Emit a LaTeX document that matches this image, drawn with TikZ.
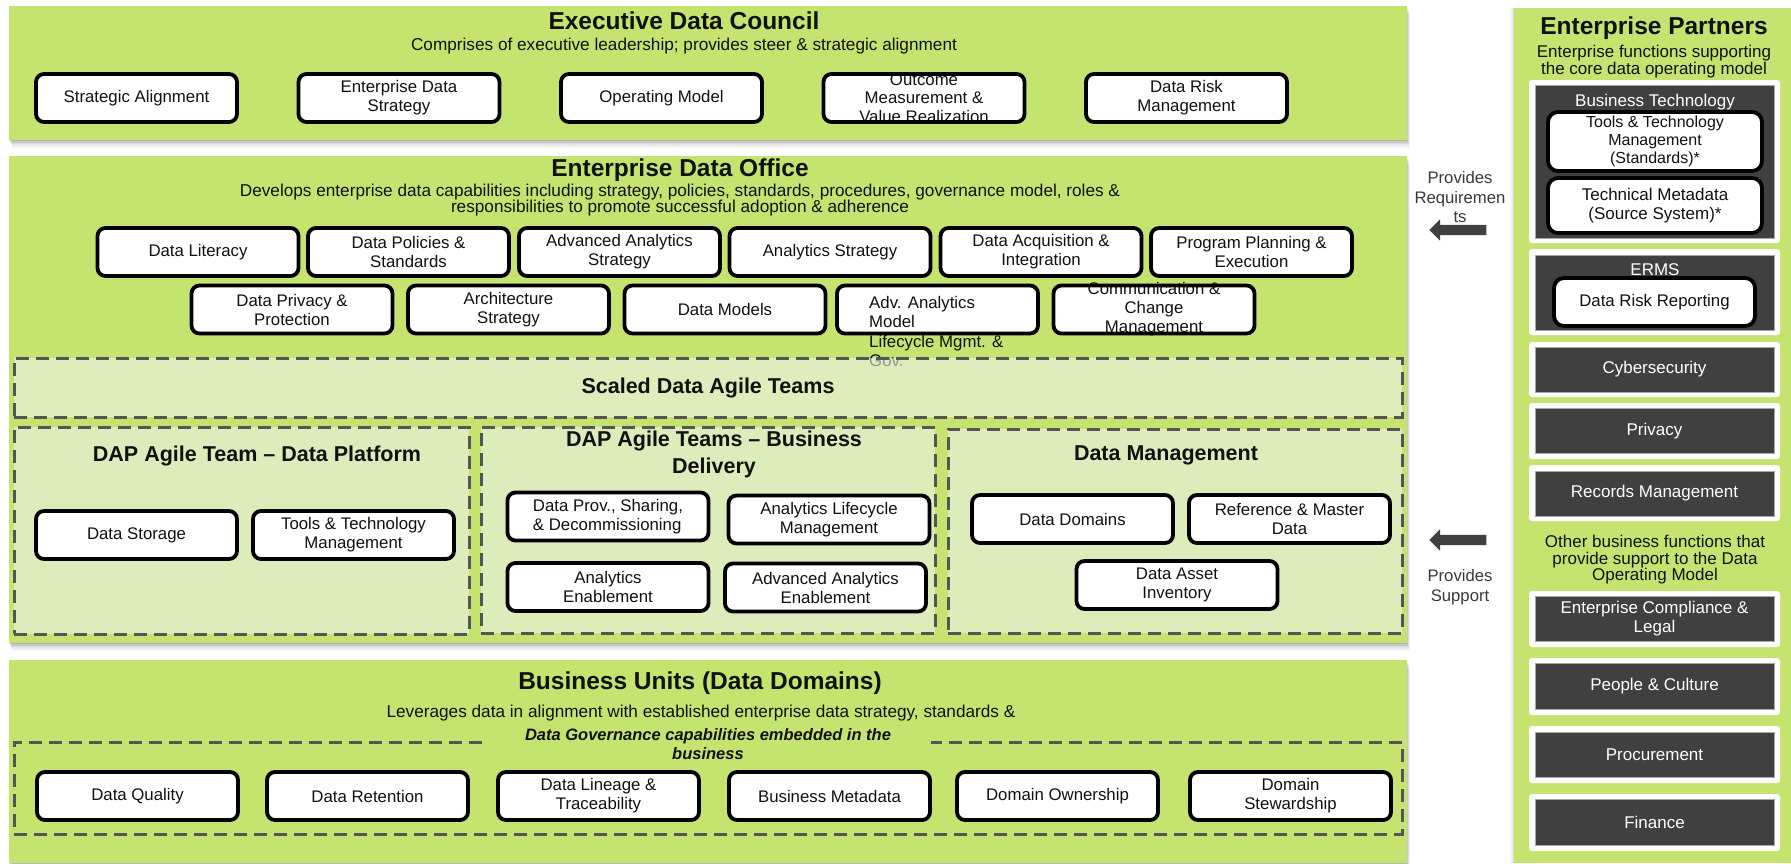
\documentclass[tikz,border=0pt]{standalone}
\usepackage{fontspec}
\setmainfont{Liberation Sans}
\usetikzlibrary{shapes.arrows,backgrounds}
\definecolor{pgreen}{HTML}{C5E46F}
\definecolor{teamfill}{HTML}{E4EFCF}
\definecolor{scalefill}{HTML}{EFF3EF}
\definecolor{dashc}{HTML}{555555}
\definecolor{dgray}{HTML}{404040}
\definecolor{ngray}{HTML}{3A3A3A}
\definecolor{txt}{HTML}{111111}
\newcommand\fsz[2]{\fontsize{#1}{#2}\selectfont}

\begin{document}
\begin{tikzpicture}[x=1pt,y=-1pt,
  panel/.style={fill=pgreen, inner sep=0pt, outer sep=0pt},
  capbg/.style={fill=white, rounded corners=8pt, minimum width=201pt, minimum height=48pt, inner sep=0pt},
  capframe/.style={capbg, fill=none, draw=black, line width=3.8pt},
  capbox/.style={capbg, draw=black, line width=3.8pt, align=center, text=txt, font={\fsz{16.8}{19}}},
  captext/.style={align=center, text=txt, inner sep=0pt},
  team/.style={draw=dashc, line width=3pt, dash pattern=on 13pt off 7pt, fill=teamfill, fill opacity=0.8, text opacity=1, inner sep=0pt},
  ttl/.style={text=txt, font={\bfseries\fsz{24.5}{28}}},
  sect/.style={text=txt, align=center, font={\bfseries\fsz{21.5}{27}}},
  subt/.style={text=txt, align=center, font={\fsz{17.2}{16.5}}},
  rsub/.style={text=txt, align=center, font={\fsz{17}{16.8}}},
  wbox/.style={fill=white, rounded corners=3pt, minimum width=251pt, inner sep=0pt},
  dbox/.style={fill=dgray, draw=gray!70, line width=0.8pt, minimum width=239pt, inner sep=0pt, text=white, align=center, font={\fsz{17}{19}}},
  ibox/.style={capbox, minimum width=214pt, rounded corners=10pt},
  flownote/.style={text=ngray, align=center, font={\fsz{16.7}{19.5}}},
  blk/.style={single arrow, fill=dgray, minimum height=57pt, minimum width=21pt, single arrow head extend=5.5pt, single arrow head indent=0pt, shape border rotate=180, inner xsep=0pt, inner ysep=0pt}
]
\useasboundingbox (0,0) rectangle (1791,863);

% ---------- panels ----------
\node[panel, minimum width=1398pt, minimum height=134pt] (exec) at (708,73) {};
\node[panel, minimum width=1398pt, minimum height=487pt] (edo) at (708,399.5) {};
\node[panel, minimum width=1398pt, minimum height=203pt] (bu) at (708,761.5) {};
\node[panel, minimum width=277pt, minimum height=855pt] (ep) at (1652.5,435.5) {};

\begin{pgfonlayer}{background}
  \fill[white] (0,0) rectangle (1791,863);
  \foreach \p in {exec,edo,bu}{
    \foreach \d/\o in {1/0.10,2.5/0.08,4/0.06,5.5/0.05,7.5/0.04}{
      \fill[black,opacity=\o] ([shift={(0.4*\d,\d)}]\p.south west) rectangle ([shift={(0.4*\d,\d)}]\p.north east);
    }
  }
  \foreach \d/\o in {1/0.06,2.5/0.05,4/0.04}{
    \fill[black,opacity=\o] ([shift={(-\d,0)}]ep.south west) rectangle ([shift={(-\d,0)}]ep.north east);
  }
\end{pgfonlayer}

% ---------- Executive Data Council ----------
\node[ttl] (exect) at (684,21) {Executive Data Council};
\node[subt] (execs) at (684,46) {Comprises of executive leadership; provides steer \& strategic alignment};
\node[capbox] (c1) at (136.5,98) {Strategic Alignment};
\node[capbox] (c2) at (399,98) {Enterprise Data\\Strategy};
\node[capbox] (c3) at (661.5,98) {Operating Model};
\node[capbg] (c4) at (924,98) {};
\node[captext, font={\fsz{16.8}{18.5}}] (c4t) at (924,98) {Outcome\\Measurement \&\\Value Realization};
\node[capframe] (c4f) at (924,98) {};
\node[capbox] (c5) at (1186.5,98) {Data Risk\\Management};

% ---------- Enterprise Data Office ----------
\node[ttl] (edot) at (680,170) {Enterprise Data Office};
\node[subt] (edos) at (680,200) {Develops enterprise data capabilities including strategy, policies, standards, procedures, governance model, roles \&\\responsibilities to promote successful adoption \& adherence};

\node[capbox] (e1) at (198,252) {Data Literacy};
\node[capbox] (e2) at (408.5,252) {Data Policies \&\\Standards};
\node[capbox] (e3) at (619.5,252) {Advanced Analytics\\Strategy};
\node[capbox] (e4) at (830,252) {Analytics Strategy};
\node[capbox] (e5) at (1041,252) {Data Acquisition \&\\Integration};
\node[capbox] (e6) at (1251.5,252) {Program Planning \&\\Execution};

\node[capbox] (f1) at (292,309.5) {Data Privacy \&\\Protection};
\node[capbox] (f2) at (508.5,309.5) {Architecture\\Strategy};
\node[capbox] (f3) at (725,309.5) {Data Models};
\node[capbg] (f4) at (937.5,309.5) {};
\node[captext, align=left, anchor=north west, font={\fsz{16.8}{19.5}}] (f4t) at (869,296) {Adv. Analytics\\Model\\Lifecycle Mgmt. \&\\Gov.};
\node[capframe] (f4f) at (937.5,309.5) {};
\node[capbg] (f5) at (1154,309.5) {};
\node[captext, font={\fsz{16.8}{19}}] (f5t) at (1154,309.5) {Communication \&\\Change\\Management};
\node[capframe] (f5f) at (1154,309.5) {};

% ---------- Scaled Data Agile Teams ----------
\node[team, fill=scalefill, fill opacity=0.6, minimum width=1388pt, minimum height=59pt] (sdat) at (708,387.5) {};
\node[sect] (sdatt) at (708,388) {Scaled Data Agile Teams};

\node[team, minimum width=455pt, minimum height=207pt] (tplat) at (241.5,530.5) {};
\node[team, minimum width=454pt, minimum height=206pt] (tbiz) at (708,530) {};
\node[team, minimum width=454pt, minimum height=204pt] (tdm) at (1175,531) {};

\node[sect] (tplatt) at (257,456) {DAP Agile Team – Data Platform};
\node[sect] (tbizt) at (714,454.5) {DAP Agile Teams – Business\\Delivery};
\node[sect] (tdmt) at (1166,455) {Data Management};

\node[capbox] (p1) at (136.5,535) {Data Storage};
\node[capbox] (p2) at (353.5,535) {Tools \& Technology\\Management};

\node[capbox, align=left] (g1) at (608,516.5) {Data Prov., Sharing,\\\& Decommissioning};
\node[capbox] (g2) at (829,519.5) {Analytics Lifecycle\\Management};
\node[capbox] (g3) at (608,587) {Analytics\\Enablement};
\node[capbox] (g4) at (825.5,587.5) {Advanced Analytics\\Enablement};

\node[capbox] (m1) at (1072.5,519) {Data Domains};
\node[capbox] (m2) at (1289.5,519) {Reference \& Master\\Data};
\node[capbox] (m3) at (1177,585) {Data Asset\\Inventory};

% ---------- Business Units ----------
\node[ttl] (bun) at (700,683) {Business Units (Data Domains)};
\node[subt] (bus) at (701,713) {Leverages data in alignment with established enterprise data strategy, standards \&};
\node[draw=dashc, line width=3pt, dash pattern=on 13pt off 7pt, minimum width=1388pt, minimum height=92pt, inner sep=0pt] (dgov) at (708,788) {};
\node[fill=pgreen, text=txt, align=center, minimum width=446pt, inner xsep=0pt, inner ysep=2pt, font={\bfseries\itshape\fsz{16.5}{19}}] (dgovl) at (708,744.5) {Data Governance capabilities embedded in the\\business};

\node[capbox] (h1) at (137.5,796) {Data Quality};
\node[capbox] (h2) at (367.5,796) {Data Retention};
\node[capbox] (h3) at (598.5,796) {Data Lineage \&\\Traceability};
\node[capbox] (h4) at (829.5,796) {Business Metadata};
\node[capbox] (h5) at (1057.5,796) {Domain Ownership};
\node[capbox] (h6) at (1290.5,796) {Domain\\Stewardship};

% ---------- Enterprise Partners ----------
\node[ttl] (ept) at (1654,28) {Enterprise Partners};
\node[rsub] (eps) at (1654,61.5) {Enterprise functions supporting\\the core data operating model};

\node[wbox, minimum height=163pt] (bt) at (1654.5,161.5) {};
\node[dbox, minimum height=153pt] (btd) at (1654.5,161.5) {};
\node[text=white, font={\fsz{17}{19}}] (btl) at (1655,102) {Business Technology};
\node[ibox, minimum height=59pt, font={\fsz{16}{18}}] (ttm) at (1655,141.5) {Tools \& Technology\\Management\\(Standards)*};
\node[ibox, minimum height=55pt, font={\fsz{17}{19}}] (tmd) at (1655,205.5) {Technical Metadata\\(Source System)*};

\node[wbox, minimum height=86pt] (erm) at (1654.5,292) {};
\node[dbox, minimum height=75pt] (ermd) at (1654.5,292.5) {};
\node[text=white, font={\fsz{17}{19}}] (erml) at (1655,270) {ERMS};
\node[capbox, rounded corners=10pt] (drr) at (1654.5,302) {Data Risk Reporting};

\node[wbox, minimum height=55pt] (w1) at (1654.5,369.5) {};
\node[dbox, minimum height=45pt] (cyb) at (1654.5,369.5) {Cybersecurity};
\node[wbox, minimum height=56pt] (w2) at (1654.5,431) {};
\node[dbox, minimum height=45pt] (prv) at (1654.5,431) {Privacy};
\node[wbox, minimum height=56pt] (w3) at (1654.5,493) {};
\node[dbox, minimum height=45pt] (rec) at (1654.5,493.5) {Records Management};

\node[rsub, font={\fsz{17}{16.5}}] (oth) at (1655,560) {Other business functions that\\provide support to the Data\\Operating Model};

\node[wbox, minimum height=56pt] (w4) at (1654.5,619) {};
\node[dbox, minimum height=45pt] (cmp) at (1654.5,619) {Enterprise Compliance \&\\Legal};
\node[wbox, minimum height=57pt] (w5) at (1654.5,686.5) {};
\node[dbox, minimum height=46pt] (ppl) at (1654.5,686.5) {People \& Culture};
\node[wbox, minimum height=57pt] (w6) at (1654.5,754.5) {};
\node[dbox, minimum height=45pt] (prc) at (1654.5,754.5) {Procurement};
\node[wbox, minimum height=57pt] (w7) at (1654.5,822.5) {};
\node[dbox, minimum height=46pt] (fin) at (1654.5,822.5) {Finance};

% ---------- flow arrows ----------
\node[flownote] (preq) at (1460,197.5) {Provides\\Requiremen\\ts};
\node[blk] (areq) at (1460.5,230) {\rule{0pt}{10pt}};
\node[blk] (asup) at (1460.5,540) {\rule{0pt}{10pt}};
\node[flownote] (psup) at (1460,587) {Provides\\Support};

\end{tikzpicture}
\end{document}
